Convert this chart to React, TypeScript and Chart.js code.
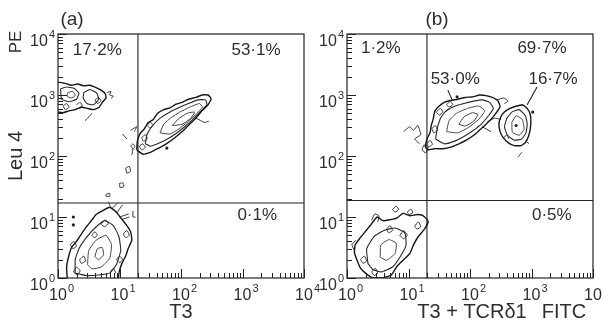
import { useEffect, useRef } from "react";
import { Chart, registerables } from "chart.js";
Chart.register(...registerables);

type P = [number, number];

// Axis: values in decades (log10 of fluorescence intensity), 10^0 .. 10^4
const DECADES = [0, 1, 2, 3, 4];
const TICK_BASE = "10";
const TICK_EXP = ["0", "1", "2", "3", "4"];
const MINOR_STEPS = [2, 3, 4, 5, 6, 7, 8, 9];

// Quadrant gates [x, y] in decades
const A_GATE: P = [1.3, 1.23];
const B_GATE: P = [1.3, 1.27];

// Quadrant percentages
const A_PCT = ["17·2%", "53·1%", "0·1%"];
const A_PCT_AT: P[] = [[0.64, 3.74], [3.22, 3.74], [3.24, 1.03]];
const B_PCT = ["1·2%", "69·7%", "53·0%", "16·7%", "0·5%"];
const B_PCT_AT: P[] = [[0.55, 3.77], [3.17, 3.77], [1.76, 3.25], [3.35, 3.25], [3.33, 1.02]];
const B_LEADERS: P[][] = [
  [[1.64, 3.08], [1.71, 2.92]],
  [[3.09, 3.13], [2.93, 2.84]],
];

// ---------- Panel (a) contours ----------
const A_OUTER: P[][] = [
  [[0.0, 3.21], [0.12, 3.19], [0.22, 3.16], [0.32, 3.18], [0.42, 3.15], [0.52, 3.16], [0.62, 3.12], [0.7, 3.08], [0.77, 3.02], [0.78, 2.95], [0.72, 2.88], [0.67, 2.8], [0.58, 2.76], [0.48, 2.78], [0.38, 2.8], [0.28, 2.76], [0.18, 2.74], [0.08, 2.71], [0.0, 2.72]],
  [[1.28, 2.1], [1.29, 2.24], [1.33, 2.36], [1.4, 2.44], [1.46, 2.54], [1.55, 2.6], [1.62, 2.7], [1.72, 2.76], [1.82, 2.79], [1.92, 2.85], [2.02, 2.88], [2.12, 2.93], [2.24, 2.96], [2.34, 3.0], [2.44, 3.0], [2.49, 2.94], [2.44, 2.84], [2.34, 2.74], [2.24, 2.62], [2.14, 2.52], [2.02, 2.4], [1.9, 2.3], [1.76, 2.2], [1.62, 2.12], [1.5, 2.06], [1.38, 2.03], [1.28, 2.1]],
  [[0.15, 0.0], [0.14, 0.18], [0.17, 0.34], [0.22, 0.5], [0.3, 0.6], [0.38, 0.72], [0.47, 0.85], [0.55, 0.95], [0.62, 1.04], [0.72, 1.1], [0.84, 1.16], [0.94, 1.09], [1.04, 0.96], [1.12, 0.86], [1.18, 0.76], [1.2, 0.62], [1.14, 0.48], [1.1, 0.36], [1.04, 0.24], [1.0, 0.12], [0.98, 0.0]],
];
const A_MID: P[][] = [
  [[0.04, 3.1], [0.14, 3.13], [0.26, 3.11], [0.34, 3.03], [0.3, 2.93], [0.18, 2.89], [0.06, 2.93], [0.04, 3.1]],
  [[0.42, 3.04], [0.52, 3.09], [0.63, 3.03], [0.66, 2.93], [0.58, 2.84], [0.47, 2.86], [0.41, 2.95], [0.42, 3.04]],
  [[1.42, 2.2], [1.45, 2.36], [1.54, 2.5], [1.66, 2.62], [1.8, 2.71], [1.96, 2.79], [2.12, 2.86], [2.28, 2.92], [2.4, 2.92], [2.42, 2.84], [2.32, 2.73], [2.2, 2.61], [2.06, 2.48], [1.92, 2.37], [1.78, 2.28], [1.62, 2.2], [1.5, 2.16], [1.42, 2.2]],
  [[0.28, 0.08], [0.28, 0.3], [0.34, 0.48], [0.45, 0.65], [0.6, 0.82], [0.76, 0.94], [0.9, 0.86], [0.99, 0.68], [1.02, 0.45], [0.95, 0.22], [0.84, 0.08], [0.66, 0.05], [0.46, 0.04], [0.28, 0.08]],
];
const A_INNER: P[][] = [
  [[0.16, 3.04], [0.24, 3.06], [0.28, 2.99], [0.21, 2.95], [0.15, 2.98], [0.16, 3.04]],
  [[1.66, 2.38], [1.72, 2.52], [1.84, 2.63], [1.98, 2.72], [2.14, 2.8], [2.3, 2.86], [2.35, 2.8], [2.24, 2.68], [2.1, 2.55], [1.96, 2.44], [1.82, 2.36], [1.66, 2.38]],
  [[1.86, 2.5], [1.96, 2.61], [2.1, 2.7], [2.22, 2.72], [2.16, 2.62], [2.02, 2.52], [1.86, 2.5]],
  [[0.48, 0.22], [0.5, 0.45], [0.62, 0.62], [0.78, 0.7], [0.87, 0.55], [0.84, 0.32], [0.7, 0.18], [0.55, 0.15], [0.48, 0.22]],
  [[0.6, 0.35], [0.64, 0.48], [0.72, 0.5], [0.74, 0.38], [0.66, 0.3], [0.6, 0.35]],
];
// small outlying islands and fragments
const A_STRAYS: P[][] = [
  [[0.8, 3.04], [0.86, 3.06], [0.84, 3.0], [0.9, 2.98], [0.86, 2.94]],
  [[0.44, 2.58], [0.52, 2.66], [0.55, 2.7]],
  [[1.1, 1.8], [1.16, 1.83], [1.18, 1.75], [1.12, 1.72], [1.1, 1.8]],
  [[1.0, 1.55], [1.06, 1.56], [1.07, 1.5], [1.01, 1.48], [1.0, 1.55]],
  [[0.78, 1.37], [0.84, 1.39], [0.84, 1.34], [0.78, 1.34], [0.78, 1.37]],
  [[1.2, 2.1], [1.25, 2.15], [1.22, 2.2], [1.18, 2.16], [1.22, 2.12], [1.2, 2.02]],
  [[1.05, 2.36], [1.12, 2.28]],
  [[1.18, 2.42], [1.28, 2.48], [1.24, 2.4]],
  [[0.82, 1.25], [0.87, 1.14], [0.98, 1.24]],
  [[1.0, 1.0], [1.15, 1.05]],
  [[1.22, 1.1], [1.22, 1.0], [1.26, 1.0]],
  [[2.25, 2.62], [2.38, 2.55], [2.45, 2.57]],
  [[0.2, 0.55], [0.26, 0.6], [0.3, 0.52], [0.24, 0.48], [0.2, 0.55]],
  [[0.35, 0.3], [0.42, 0.36], [0.45, 0.28], [0.38, 0.24], [0.35, 0.3]],
  [[0.7, 0.88], [0.76, 0.95], [0.82, 0.9], [0.76, 0.84], [0.7, 0.88]],
  [[0.95, 0.3], [1.0, 0.36], [1.05, 0.3], [1.0, 0.25], [0.95, 0.3]],
  [[0.55, 0.7], [0.6, 0.76], [0.64, 0.7], [0.59, 0.66], [0.55, 0.7]],
  [[1.06, 0.72], [1.12, 0.78], [1.16, 0.7], [1.1, 0.66], [1.06, 0.72]],
  [[0.25, 0.1], [0.3, 0.18], [0.36, 0.12], [0.31, 0.05], [0.25, 0.1]],
  [[0.85, 0.1], [0.9, 0.16], [0.94, 0.08]],
  [[0.95, 1.06], [1.05, 1.2]],
  [[1.04, 0.96], [1.16, 1.0]],
  [[0.6, 2.92], [0.66, 2.96], [0.7, 2.9], [0.64, 2.86], [0.6, 2.92]],
  [[0.08, 2.82], [0.14, 2.86], [0.18, 2.8], [0.12, 2.76], [0.08, 2.82]],
  [[0.3, 2.84], [0.36, 2.88], [0.4, 2.82], [0.34, 2.79]],
  [[1.45, 2.5], [1.5, 2.56], [1.54, 2.5], [1.49, 2.46], [1.45, 2.5]],
  [[1.36, 2.3], [1.42, 2.35], [1.45, 2.28], [1.39, 2.24], [1.36, 2.3]],
  [[1.32, 2.16], [1.38, 2.2], [1.42, 2.14], [1.36, 2.1], [1.32, 2.16]],
];
const A_DOTS: P[] = [[1.77, 2.13], [0.25, 1.0], [0.25, 0.87]];

// ---------- Panel (b) contours ----------
const B_OUTER: P[][] = [
  [[1.27, 2.15], [1.3, 2.28], [1.35, 2.38], [1.37, 2.5], [1.4, 2.6], [1.43, 2.74], [1.5, 2.82], [1.58, 2.88], [1.68, 2.91], [1.8, 2.93], [1.92, 2.96], [2.04, 2.97], [2.16, 3.0], [2.26, 2.99], [2.36, 2.96], [2.45, 2.91], [2.49, 2.81], [2.42, 2.7], [2.34, 2.6], [2.26, 2.52], [2.16, 2.43], [2.06, 2.34], [1.94, 2.26], [1.82, 2.2], [1.7, 2.15], [1.56, 2.12], [1.42, 2.12], [1.32, 2.1], [1.27, 2.15]],
  [[2.86, 2.84], [2.93, 2.78], [2.98, 2.68], [2.99, 2.56], [2.98, 2.44], [2.95, 2.32], [2.9, 2.22], [2.83, 2.17], [2.72, 2.17], [2.62, 2.22], [2.54, 2.3], [2.49, 2.4], [2.47, 2.52], [2.5, 2.64], [2.56, 2.72], [2.65, 2.78], [2.76, 2.82], [2.86, 2.84]],
  [[0.13, 0.54], [0.2, 0.64], [0.28, 0.74], [0.37, 0.85], [0.49, 1.0], [0.58, 0.94], [0.68, 0.95], [0.81, 0.98], [0.91, 1.06], [1.02, 1.02], [1.14, 1.04], [1.24, 1.02], [1.32, 0.93], [1.26, 0.8], [1.16, 0.68], [1.08, 0.54], [1.02, 0.4], [0.92, 0.3], [0.82, 0.2], [0.72, 0.05], [0.58, 0.0], [0.42, 0.0], [0.3, 0.08], [0.22, 0.16], [0.16, 0.3], [0.12, 0.42], [0.13, 0.54]],
];
const B_MID: P[][] = [
  [[1.44, 2.28], [1.47, 2.46], [1.52, 2.62], [1.6, 2.73], [1.74, 2.81], [1.9, 2.86], [2.06, 2.9], [2.2, 2.92], [2.32, 2.88], [2.38, 2.78], [2.3, 2.66], [2.18, 2.52], [2.04, 2.41], [1.9, 2.32], [1.74, 2.24], [1.58, 2.2], [1.44, 2.28]],
  [[2.6, 2.62], [2.68, 2.72], [2.8, 2.76], [2.9, 2.66], [2.93, 2.52], [2.91, 2.38], [2.84, 2.28], [2.72, 2.26], [2.61, 2.34], [2.56, 2.48], [2.6, 2.62]],
  [[0.34, 0.24], [0.32, 0.48], [0.44, 0.68], [0.6, 0.78], [0.78, 0.82], [0.94, 0.74], [0.96, 0.54], [0.86, 0.34], [0.74, 0.18], [0.56, 0.1], [0.42, 0.14], [0.34, 0.24]],
];
const B_INNER: P[][] = [
  [[1.62, 2.4], [1.66, 2.58], [1.78, 2.7], [1.96, 2.78], [2.14, 2.82], [2.24, 2.74], [2.14, 2.6], [1.98, 2.47], [1.8, 2.38], [1.62, 2.4]],
  [[1.82, 2.52], [1.9, 2.64], [2.04, 2.71], [2.13, 2.68], [2.06, 2.57], [1.92, 2.49], [1.82, 2.52]],
  [[2.68, 2.55], [2.75, 2.66], [2.85, 2.6], [2.88, 2.44], [2.8, 2.34], [2.69, 2.39], [2.68, 2.55]],
  [[0.54, 0.34], [0.55, 0.54], [0.68, 0.63], [0.8, 0.57], [0.78, 0.4], [0.64, 0.29], [0.54, 0.34]],
];
const B_STRAYS: P[][] = [
  [[0.92, 2.4], [1.02, 2.48], [1.08, 2.42], [1.15, 2.5], [1.2, 2.35], [1.1, 2.28], [1.18, 2.2]],
  [[1.22, 2.1], [1.28, 2.05], [1.32, 2.15], [1.25, 2.18], [1.22, 2.1]],
  [[2.44, 2.92], [2.55, 2.95], [2.62, 2.9], [2.56, 2.86]],
  [[2.28, 2.56], [2.4, 2.62], [2.5, 2.6]],
  [[2.2, 2.48], [2.34, 2.4]],
  [[0.74, 1.12], [0.8, 1.18], [0.84, 1.12], [0.78, 1.08], [0.74, 1.12]],
  [[0.98, 1.08], [1.04, 1.13], [1.07, 1.07], [1.01, 1.04], [0.98, 1.08]],
  [[0.4, 0.95], [0.45, 1.05], [0.52, 1.02], [0.5, 0.92]],
  [[2.78, 1.98], [2.84, 2.06]],
  [[1.45, 2.72], [1.52, 2.78], [1.56, 2.72], [1.5, 2.67], [1.45, 2.72]],
  [[1.38, 2.45], [1.44, 2.5], [1.47, 2.42], [1.41, 2.38], [1.38, 2.45]],
  [[1.3, 2.2], [1.35, 2.26], [1.39, 2.19], [1.33, 2.15], [1.3, 2.2]],
  [[1.62, 2.84], [1.68, 2.9], [1.72, 2.84], [1.66, 2.8], [1.62, 2.84]],
  [[2.55, 2.3], [2.6, 2.35], [2.63, 2.28]],
  [[2.9, 2.25], [2.96, 2.2]],
  [[0.22, 0.3], [0.28, 0.36], [0.32, 0.28], [0.26, 0.24], [0.22, 0.3]],
  [[0.86, 0.7], [0.92, 0.78], [0.98, 0.7], [0.92, 0.64], [0.86, 0.7]],
  [[1.1, 0.85], [1.16, 0.92], [1.2, 0.84], [1.14, 0.8], [1.1, 0.85]],
  [[0.4, 0.1], [0.46, 0.16], [0.5, 0.08], [0.44, 0.04], [0.4, 0.1]],
  [[0.64, 0.8], [0.7, 0.86], [0.74, 0.78], [0.68, 0.74], [0.64, 0.8]],
  [[0.15, 0.62], [0.08, 0.55], [0.12, 0.45]],
];
const B_DOTS: P[] = [[1.79, 2.97], [3.02, 2.72], [2.75, 2.5]];

const INK = "#222";
const TEXT = "#2e2e2e";
const FONT = '"Liberation Sans", Arial, sans-serif';

const pts = (p: P[]) => p.map(([x, y]) => ({ x, y }));

function lineSet(p: P[], color: string, width: number, tension = 0.15) {
  return {
    data: pts(p),
    showLine: true,
    borderColor: color,
    borderWidth: width,
    pointRadius: 0,
    tension,
    fill: false,
  };
}

function dotSet(p: P[]) {
  return {
    data: pts(p),
    showLine: false,
    pointRadius: 1.6,
    backgroundColor: INK,
    borderWidth: 0,
  };
}

function drawPow(ctx: CanvasRenderingContext2D, exp: string, x: number, yMid: number, align: "center" | "right") {
  ctx.font = `16px ${FONT}`;
  const wb = ctx.measureText(TICK_BASE).width;
  ctx.font = `11px ${FONT}`;
  const we = ctx.measureText(exp).width;
  const x0 = align === "center" ? x - wb / 2 : x - wb - we - 1;
  ctx.textAlign = "left";
  ctx.textBaseline = "alphabetic";
  ctx.font = `16px ${FONT}`;
  ctx.fillText(TICK_BASE, x0, yMid + 5.8);
  ctx.font = `11px ${FONT}`;
  ctx.fillText(exp, x0 + wb + 1, yMid - 2.5);
}

interface PanelCfg {
  letter: string;
  letterX: number;
  pct: string[];
  pctAt: P[];
  xTitles: { text: string; cx: number }[];
  yTitles: { text: string; cx: number; cy: number; size: number }[];
}

function framePlugin(cfg: PanelCfg) {
  return {
    id: "frame",
    afterDatasetsDraw(chart: Chart) {
      const ctx = chart.ctx;
      const { left, right, top, bottom } = chart.chartArea;
      const xs = chart.scales.x;
      const ys = chart.scales.y;
      ctx.save();
      ctx.strokeStyle = INK;
      ctx.fillStyle = TEXT;
      ctx.lineWidth = 1.2;
      ctx.strokeRect(left, top, right - left, bottom - top);

      ctx.lineWidth = 1;
      ctx.beginPath();
      DECADES.forEach((d) => {
        const steps = d < 4 ? [1, ...MINOR_STEPS] : [1];
        steps.forEach((k) => {
          const v = d + Math.log10(k);
          const len = k === 1 ? 9 : 5;
          const px = Math.round(xs.getPixelForValue(v)) + 0.5;
          ctx.moveTo(px, bottom);
          ctx.lineTo(px, bottom - len);
          const py = Math.round(ys.getPixelForValue(v)) + 0.5;
          ctx.moveTo(left, py);
          ctx.lineTo(left + len, py);
        });
      });
      ctx.stroke();

      DECADES.forEach((d, i) => {
        drawPow(ctx, TICK_EXP[i], xs.getPixelForValue(d), bottom + 16, "center");
        drawPow(ctx, TICK_EXP[i], left - 3, ys.getPixelForValue(d) + 6, "right");
      });

      ctx.textAlign = "center";
      ctx.textBaseline = "middle";
      ctx.font = `17px ${FONT}`;
      cfg.pct.forEach((t, i) => {
        const [vx, vy] = cfg.pctAt[i];
        ctx.fillText(t, xs.getPixelForValue(vx), ys.getPixelForValue(vy));
      });

      ctx.font = `19px ${FONT}`;
      ctx.fillText(cfg.letter, cfg.letterX, top - 14);

      ctx.font = `20px ${FONT}`;
      cfg.xTitles.forEach((t) => ctx.fillText(t.text, t.cx, bottom + 34));
      cfg.yTitles.forEach((t) => {
        ctx.save();
        ctx.translate(t.cx, t.cy);
        ctx.rotate(-Math.PI / 2);
        ctx.font = `${t.size}px ${FONT}`;
        ctx.fillText(t.text, 0, 0);
        ctx.restore();
      });
      ctx.restore();
    },
  };
}

function buildDatasets(outer: P[][], mid: P[][], inner: P[][], strays: P[][], dots: P[], gate: P, leaders: P[][]) {
  return [
    ...outer.map((c) => lineSet(c, "#161616", 1.4)),
    ...mid.map((c) => lineSet(c, "#2a2a2a", 1.1)),
    ...inner.map((c) => lineSet(c, "#444", 1.0)),
    ...strays.map((c) => lineSet(c, "#333", 1.0)),
    dotSet(dots),
    lineSet([[gate[0], 0], [gate[0], 4]], INK, 1.1, 0),
    lineSet([[0, gate[1]], [4, gate[1]]], INK, 1.1, 0),
    ...leaders.map((c) => lineSet(c, INK, 1.1, 0)),
  ];
}

function makeConfig(datasets: any[], padding: any, cfg: PanelCfg): any {
  return {
    type: "scatter",
    data: { datasets },
    options: {
      animation: false,
      responsive: false,
      maintainAspectRatio: false,
      devicePixelRatio: 1,
      layout: { padding },
      plugins: { legend: { display: false }, tooltip: { enabled: false } },
      scales: {
        x: { type: "linear", min: 0, max: 4, display: false },
        y: { type: "linear", min: 0, max: 4, display: false },
      },
    },
    plugins: [framePlugin(cfg)],
  };
}

export default function App() {
  const refA = useRef<HTMLCanvasElement>(null);
  const refB = useRef<HTMLCanvasElement>(null);

  useEffect(() => {
    const a = new Chart(
      refA.current!,
      makeConfig(
        buildDatasets(A_OUTER, A_MID, A_INNER, A_STRAYS, A_DOTS, A_GATE, []),
        { left: 58, right: 26, top: 34, bottom: 48 },
        {
          letter: "(a)",
          letterX: 72,
          pct: A_PCT,
          pctAt: A_PCT_AT,
          xTitles: [{ text: "T3", cx: 181 }],
          yTitles: [
            { text: "PE", cx: 16, cy: 42, size: 17 },
            { text: "Leu 4", cx: 16, cy: 156, size: 20 },
          ],
        }
      )
    );
    const b = new Chart(
      refB.current!,
      makeConfig(
        buildDatasets(B_OUTER, B_MID, B_INNER, B_STRAYS, B_DOTS, B_GATE, B_LEADERS),
        { left: 27, right: 10, top: 34, bottom: 48 },
        {
          letter: "(b)",
          letterX: 117,
          pct: B_PCT,
          pctAt: B_PCT_AT,
          xTitles: [
            { text: "T3 + TCRδ1", cx: 152 },
            { text: "FITC", cx: 244 },
          ],
          yTitles: [],
        }
      )
    );
    return () => {
      a.destroy();
      b.destroy();
    };
  }, []);

  return (
    <div style={{ position: "fixed", left: 0, top: 0, width: 603, height: 326, background: "#fff", overflow: "hidden" }}>
      <canvas ref={refA} width={330} height={326} style={{ position: "absolute", left: 0, top: 0, width: 330, height: 326 }} />
      <canvas ref={refB} width={283} height={326} style={{ position: "absolute", left: 320, top: 0, width: 283, height: 326 }} />
    </div>
  );
}
